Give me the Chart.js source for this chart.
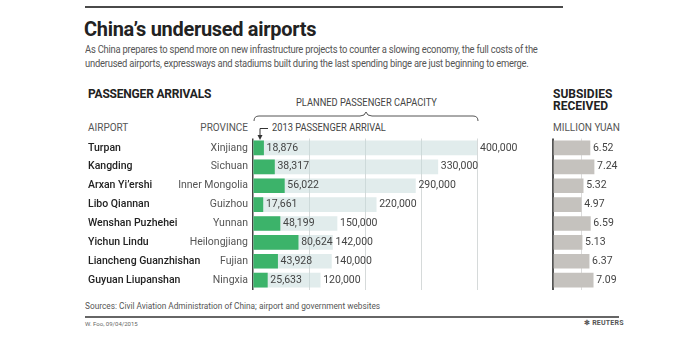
<!DOCTYPE html>
<html>
<head>
<meta charset="utf-8">
<script src="https://cdn.jsdelivr.net/npm/chart.js@4/dist/chart.umd.min.js"></script>
<style>
  html, body { margin: 0; padding: 0; background: #fff; }
  #wrap { position: relative; width: 692px; height: 338px; overflow: hidden; font-family: Roboto, "Open Sans", sans-serif; color: #333; }
  canvas { position: absolute; left: 0; top: 0; }
  .t { position: absolute; white-space: nowrap; line-height: 1; transform-origin: left center; }
  .rule { position: absolute; background: #4a4a4a; }
</style>
</head>
<body>
<div id="wrap">
  <div class="rule" style="left:85px;top:6px;width:478px;height:2px;"></div>
  <div class="t" style="left:84px;top:19px;font-size:21px;font-weight:700;color:#222;letter-spacing:-0.3px;transform:scaleX(0.95);">China’s underused airports</div>
  <div class="t" style="left:85px;top:45px;font-size:10.5px;color:#555;letter-spacing:-0.25px;transform:scaleX(0.895);">As China prepares to spend more on new infrastructure projects to counter a slowing economy, the full costs of the</div>
  <div class="t" style="left:85px;top:59px;font-size:10.5px;color:#555;letter-spacing:-0.25px;transform:scaleX(0.895);">underused airports, expressways and stadiums built during the last spending binge are just beginning to emerge.</div>

  <div class="t" style="left:88px;top:88px;font-size:12px;font-weight:700;color:#222;letter-spacing:-0.2px;">PASSENGER ARRIVALS</div>
  <div class="t" style="left:296px;top:98px;font-size:10px;color:#444;transform:scaleX(0.93);">PLANNED PASSENGER CAPACITY</div>
  <svg style="position:absolute;left:0;top:0;" width="692" height="338">
    <path d="M254 121 Q254 116 259 116 L360 116 Q365 116 366 112 Q367 116 372 116 L473 116 Q478 116 478 121" fill="none" stroke="#555" stroke-width="1"/>
    <path d="M268 128.5 L260 128.5 L260 137" fill="none" stroke="#333" stroke-width="1"/>
    <path d="M257.5 135 L260 140 L262.5 135 Z" fill="#333"/>
  </svg>
  <div class="t" style="left:88px;top:123px;font-size:10px;color:#555;">AIRPORT</div>
  <div class="t" style="right:444px;top:123px;font-size:10px;color:#555;">PROVINCE</div>
  <div class="t" style="left:272px;top:123px;font-size:10px;color:#444;transform:scaleX(0.93);">2013 PASSENGER ARRIVAL</div>

  <div class="t" style="left:553px;top:88px;font-size:12px;font-weight:700;color:#222;">SUBSIDIES</div>
  <div class="t" style="left:553px;top:100px;font-size:12px;font-weight:700;color:#222;">RECEIVED</div>
  <div class="t" style="left:553px;top:123px;font-size:10px;color:#555;">MILLION YUAN</div>

  <div class="t" style="left:85px;top:302px;font-size:9px;color:#555;transform:scaleX(0.92);">Sources: Civil Aviation Administration of China; airport and government websites</div>
  <div class="rule" style="left:85px;top:316px;width:534px;height:2px;background:#666;"></div>
  <div class="t" style="left:85px;top:321px;font-size:6px;color:#666;">W. Foo, 09/04/2015</div>
  <div class="t" style="left:584px;top:320px;font-size:7px;font-weight:700;color:#555;letter-spacing:0.2px;">&#10043; REUTERS</div>

  <canvas id="arrivalsChart" width="692" height="338"></canvas>
  <canvas id="subsidyChart" width="692" height="338"></canvas>
</div>

<script>
const airports = ["Turpan", "Kangding", "Arxan Yi’ershi", "Libo Qiannan", "Wenshan Puzhehei", "Yichun Lindu", "Liancheng Guanzhishan", "Guyuan Liupanshan"];
const provinces = ["Xinjiang", "Sichuan", "Inner Mongolia", "Guizhou", "Yunnan", "Heilongjiang", "Fujian", "Ningxia"];
const arrivals2013 = [18876, 38317, 56022, 17661, 48199, 80624, 43928, 25633];
const plannedCapacity = [400000, 330000, 290000, 220000, 150000, 142000, 140000, 120000];
const subsidies = [6.52, 7.24, 5.32, 4.97, 6.59, 5.13, 6.37, 7.09];

const fontFamily = "Roboto, 'Open Sans', sans-serif";

function fmt(n) {
    return n.toLocaleString("en-US");
}

// no axis space, chart area comes only from padding
function noSize(scale) {
    if (scale.isHorizontal()) scale.height = 0;
    else scale.width = 0;
}

const arrivalLabels = {
    id: "arrivalLabels",
    afterDatasetsDraw(chart) {
        const ctx = chart.ctx;
        const xs = chart.scales.x;
        const ys = chart.scales.y;
        ctx.save();
        ctx.textBaseline = "middle";
        airports.forEach(function (name, i) {
            const y = ys.getPixelForValue(i);
            ctx.font = "500 10.5px " + fontFamily;
            ctx.fillStyle = "#222";
            ctx.textAlign = "left";
            ctx.fillText(name, 88, y);
            ctx.font = "10.5px " + fontFamily;
            ctx.fillStyle = "#555";
            ctx.textAlign = "right";
            ctx.fillText(provinces[i], 248, y);
            ctx.textAlign = "left";
            ctx.fillStyle = "#444";
            ctx.fillText(fmt(arrivals2013[i]), xs.getPixelForValue(arrivals2013[i]) + 3, y);
            ctx.fillText(fmt(plannedCapacity[i]), xs.getPixelForValue(plannedCapacity[i]) + 3, y);
        });
        ctx.restore();
    },
};

const subsidyLabels = {
    id: "subsidyLabels",
    afterDatasetsDraw(chart) {
        const ctx = chart.ctx;
        const xs = chart.scales.x;
        const ys = chart.scales.y;
        ctx.save();
        ctx.textBaseline = "middle";
        ctx.font = "10.5px " + fontFamily;
        ctx.fillStyle = "#444";
        subsidies.forEach(function (v, i) {
            ctx.fillText(v.toFixed(2), xs.getPixelForValue(v) + 3, ys.getPixelForValue(i));
        });
        ctx.restore();
    },
};

new Chart(document.getElementById("arrivalsChart").getContext("2d"), {
    type: "bar",
    data: {
        labels: airports,
        datasets: [
            {
                label: "2013 passenger arrival",
                data: arrivals2013,
                backgroundColor: "#3cb36a",
                barThickness: 14,
                grouped: false,
            },
            {
                label: "Planned passenger capacity",
                data: plannedCapacity,
                backgroundColor: "rgba(196,218,218,0.5)",
                barThickness: 14,
                grouped: false,
            },
        ],
    },
    options: {
        indexAxis: "y",
        responsive: false,
        animation: false,
        layout: { padding: { left: 253, right: 215, top: 138.5, bottom: 48.4 } },
        plugins: { legend: { display: false }, tooltip: { enabled: false } },
        scales: {
            x: {
                min: 0,
                max: 400000,
                ticks: { display: false, stepSize: 100000 },
                border: { display: false },
                grid: {
                    drawTicks: false,
                    color: (c) => (c.tick && c.tick.value === 0 ? "#444" : "#d6dada"),
                    lineWidth: (c) => (c.tick && c.tick.value === 0 ? 1.5 : 1),
                },
                afterFit: noSize,
            },
            y: {
                ticks: { display: false },
                grid: { display: false, drawTicks: false },
                border: { display: false },
                afterFit: noSize,
            },
        },
    },
    plugins: [arrivalLabels],
});

new Chart(document.getElementById("subsidyChart").getContext("2d"), {
    type: "bar",
    data: {
        labels: airports,
        datasets: [
            {
                label: "Subsidies received",
                data: subsidies,
                backgroundColor: "#c5c2be",
                barThickness: 14,
            },
        ],
    },
    options: {
        indexAxis: "y",
        responsive: false,
        animation: false,
        layout: { padding: { left: 553, right: 82.3, top: 138.5, bottom: 48.4 } },
        plugins: { legend: { display: false }, tooltip: { enabled: false } },
        scales: {
            x: {
                min: 0,
                max: 10,
                ticks: { display: false, stepSize: 5 },
                border: { display: false },
                grid: {
                    drawTicks: false,
                    color: (c) => {
                        if (!c.tick) return "rgba(0,0,0,0)";
                        if (c.tick.value === 0) return "#555";
                        if (c.tick.value === 5) return "#dcdcdc";
                        return "rgba(0,0,0,0)";
                    },
                    lineWidth: (c) => (c.tick && c.tick.value === 0 ? 2 : 1),
                },
                afterFit: noSize,
            },
            y: {
                ticks: { display: false },
                grid: { display: false, drawTicks: false },
                border: { display: false },
                afterFit: noSize,
            },
        },
    },
    plugins: [subsidyLabels],
});
</script>
</body>
</html>
